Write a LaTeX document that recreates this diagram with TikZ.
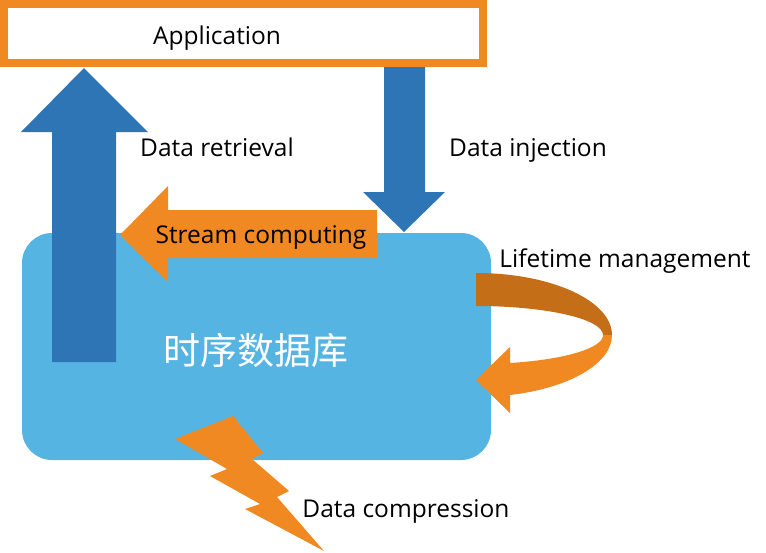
\documentclass[tikz,border=0pt]{standalone}
\usepackage{fontspec}
\setmainfont{Open Sans}
\newfontfamily\cjkfont{Noto Sans CJK SC}
\usetikzlibrary{positioning}
\definecolor{arrowblue}{RGB}{46,117,182}
\definecolor{dbblue}{RGB}{86,180,227}
\definecolor{flowor}{RGB}{241,137,34}
\definecolor{darkor}{RGB}{196,110,24}

\begin{document}
\begin{tikzpicture}[
    x=1pt,y=-1pt,
    font=\fontsize{24.5}{29}\selectfont,
    %
    appbox/.style={draw=flowor, line width=8pt, fill=white, rectangle,
                   minimum width=479pt, minimum height=59pt, inner sep=0pt},
    dbbox/.style={fill=dbblue, rectangle, rounded corners=30pt,
                  minimum width=469pt, minimum height=227pt},
    lbl/.style={text=black, inner sep=0pt, text height=18pt, text depth=5pt},
    %
    bluearrow/.style={fill=arrowblue},
    orarrow/.style={fill=flowor},
    darkband/.style={fill=darkor}
    ]

    \useasboundingbox (0,0) rectangle (766,552);

    \node[appbox] (app)  at (243.5,33.5) {};
    \node[lbl] (applabel) at (217,38) {Application};
    \node[dbbox] (tsdb) at (256.5,346.5) {};
    \node[inner sep=0pt,text=white] (tsdblabel) at (256,350) {\cjkfont\fontsize{37}{42}\selectfont 时序数据库};
    %
    % retrieval (up) and injection (down)
    \fill[bluearrow] (52,362) -- (52,132) -- (21,132) -- (84,68) -- (148,132)
        -- (116,132) -- (116,362) -- cycle;
    \fill[bluearrow] (384,67) -- (425,67) -- (425,192) -- (445,192) -- (404,232)
        -- (363,192) -- (384,192) -- cycle;
    %
    % stream computing
    \fill[orarrow] (377,210) -- (168,210) -- (168,186) -- (120,235) -- (168,282)
        -- (168,258) -- (377,258) -- cycle;
    \node[lbl] (stream) at (261,237) {Stream computing};
    %
    % lifetime loop
    \fill[darkband] (476,273) arc[start angle=-90, end angle=0, x radius=136, y radius=62]
        -- (603,335) arc[start angle=0, end angle=-90, x radius=127, y radius=29] -- cycle;
    \fill[orarrow] (612,335) arc[start angle=0, end angle=75.5, x radius=136, y radius=62]
        -- (510,413) -- (476,380) -- (510,347) -- (510,363)
        arc[start angle=74.5, end angle=0, x radius=127, y radius=29] -- cycle;
    %
    % compression bolt
    \fill[orarrow] (175,439) -- (233,416) -- (263,453) -- (252,459) -- (289,491)
        -- (277,497) -- (324,551) -- (245,509) -- (260,504) -- (210,476)
        -- (227,469) -- cycle;
    %
    \node[lbl] (retrieval)   at (217,150) {Data retrieval};
    \node[lbl] (injection)   at (528,150) {Data injection};
    \node[lbl] (lifetime)    at (625,261) {Lifetime management};
    \node[lbl] (compression) at (406,511) {Data compression};

\end{tikzpicture}
\end{document}
